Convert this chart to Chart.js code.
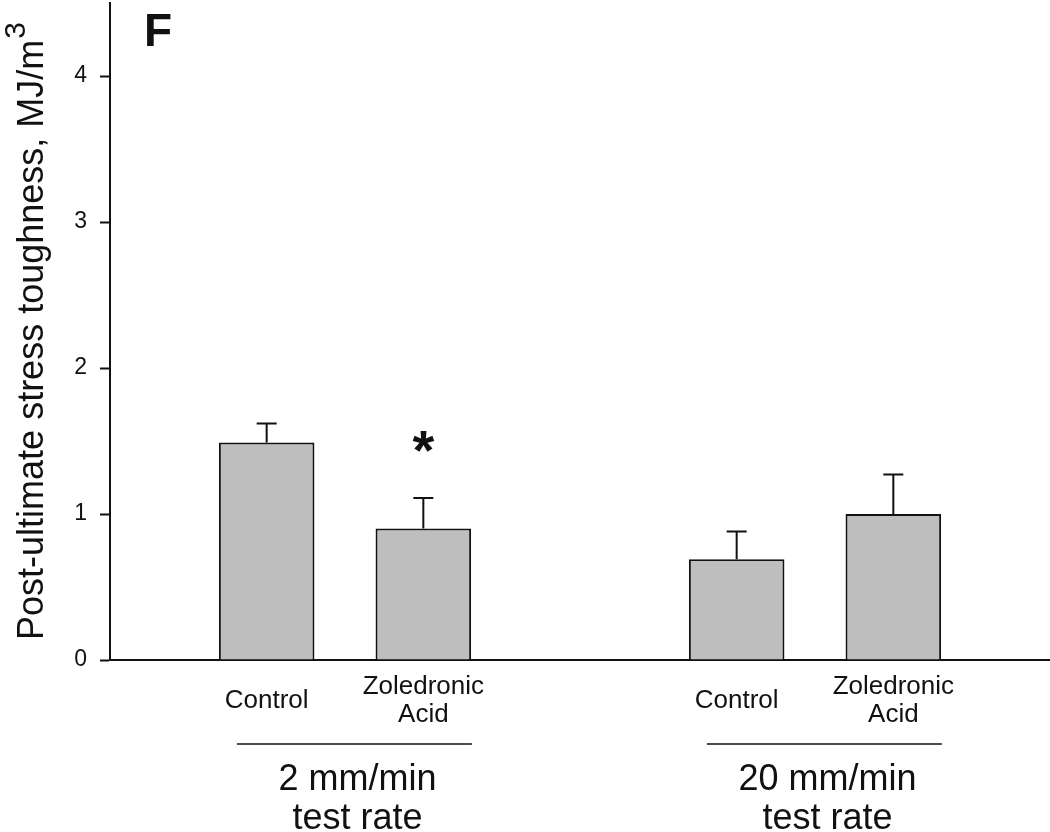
<!DOCTYPE html>
<html>
<head>
<meta charset="utf-8">
<script src="https://cdn.jsdelivr.net/npm/chart.js@4/dist/chart.umd.min.js"></script>
<style>
  body { margin: 0; background: #fff; }
  canvas { display: block; }
</style>
</head>
<body>
<canvas id="chart" width="1050" height="832"></canvas>
<script>
// categories (empty slots keep the gap between the two test rates)
const labels = ["", "Control", ["Zoledronic", "Acid"], "", "Control", ["Zoledronic", "Acid"], ""];
const toughness = [null, 1.49, 0.90, null, 0.69, 1.00, null];
const sem = [null, 0.13, 0.21, null, 0.19, 0.27, null];
const marks = ["", "", "*", "", "", "", ""];
const groupNames = [["2 mm/min", "test rate"], ["20 mm/min", "test rate"]];
const groupSlots = [[1, 2], [4, 5]];
const yTicks = [0, 1, 2, 3, 4];

const FONT = "'Liberation Sans', Arial, sans-serif";
const INK = "#111";

const extras = {
  id: "extras",
  afterDatasetsDraw(chart) {
    const ctx = chart.ctx;
    const x = chart.scales.x, y = chart.scales.y;
    const meta = chart.getDatasetMeta(0);
    ctx.save();
    ctx.strokeStyle = INK;
    ctx.fillStyle = INK;
    ctx.lineWidth = 2;
    // error bars (upper only) and significance marks
    meta.data.forEach((bar, i) => {
      if (toughness[i] == null) return;
      const top = y.getPixelForValue(toughness[i] + sem[i]);
      ctx.beginPath();
      ctx.moveTo(bar.x, bar.y);
      ctx.lineTo(bar.x, top);
      ctx.moveTo(bar.x - 10, top);
      ctx.lineTo(bar.x + 10, top);
      ctx.stroke();
      if (marks[i]) {
        ctx.font = "bold 56px " + FONT;
        const m = ctx.measureText(marks[i]);
        const mid = top - 56;
        ctx.textAlign = "center";
        ctx.textBaseline = "alphabetic";
        ctx.fillText(marks[i], bar.x, mid + (m.actualBoundingBoxAscent - m.actualBoundingBoxDescent) / 2);
      }
    });
    ctx.restore();
  },
  afterDraw(chart) {
    const ctx = chart.ctx;
    const x = chart.scales.x;
    const area = chart.chartArea;
    const w = x.getPixelForValue(1) - x.getPixelForValue(0);
    ctx.save();
    ctx.fillStyle = INK;
    ctx.strokeStyle = INK;

    // group brackets and labels
    groupSlots.forEach((s, g) => {
      const a = x.getPixelForValue(s[0]), b = x.getPixelForValue(s[1]);
      const ly = area.bottom + 84;
      ctx.lineWidth = 1.5;
      ctx.beginPath();
      ctx.moveTo(a - 0.19 * w, ly);
      ctx.lineTo(b + 0.31 * w, ly);
      ctx.stroke();
      ctx.font = "36px " + FONT;
      ctx.textAlign = "center";
      ctx.textBaseline = "alphabetic";
      const cx = (a + b) / 2 + 0.08 * w;
      ctx.fillText(groupNames[g][0], cx, area.bottom + 130);
      ctx.fillText(groupNames[g][1], cx, area.bottom + 169);
    });

    // panel letter
    ctx.font = "bold 46px " + FONT;
    ctx.textAlign = "left";
    ctx.fillText("F", 144, 46);

    // y title with superscript
    const main = "Post-ultimate stress toughness, MJ/m";
    ctx.font = "36px " + FONT;
    const wMain = ctx.measureText(main).width;
    ctx.font = "30px " + FONT;
    const wSup = ctx.measureText("3").width;
    const start = (area.top + area.bottom) / 2 + (wMain + wSup) / 2;
    ctx.translate(43, start);
    ctx.rotate(-Math.PI / 2);
    ctx.font = "36px " + FONT;
    ctx.fillText(main, 0, 0);
    ctx.font = "30px " + FONT;
    ctx.fillText("3", wMain + 1, -18);
    ctx.restore();
  }
};

new Chart(document.getElementById("chart"), {
  type: "bar",
  data: {
    labels: labels,
    datasets: [{
      data: toughness,
      backgroundColor: "#bebebe",
      borderColor: INK,
      borderWidth: 2,
      barPercentage: 0.61,
      categoryPercentage: 1
    }]
  },
  options: {
    responsive: false,
    animation: false,
    layout: { padding: { top: 3, right: 0, left: 0, bottom: 0 } },
    plugins: { legend: { display: false }, tooltip: { enabled: false } },
    scales: {
      x: {
        offset: false,
        grid: { display: false, drawTicks: false },
        border: { display: true, color: INK, width: 2 },
        ticks: {
          autoSkip: false,
          maxRotation: 0,
          crossAlign: "center",
          padding: 27,
          color: INK,
          font: { family: FONT, size: 26, lineHeight: 1.08 }
        },
        afterFit: s => { s.height = 172; s.paddingLeft = 0; s.paddingRight = 0; }
      },
      y: {
        min: 0,
        max: 4.5,
        grid: { drawOnChartArea: false, drawTicks: true, tickLength: 10, tickColor: INK, tickWidth: 2 },
        border: { display: true, color: INK, width: 2 },
        afterBuildTicks: s => { s.ticks = yTicks.map(v => ({ value: v })); },
        ticks: {
          padding: 13,
          color: INK,
          font: { family: FONT, size: 23 }
        },
        afterFit: s => { s.width = 110; s.paddingTop = 0; s.paddingBottom = 0; }
      }
    }
  },
  plugins: [extras]
});
</script>
</body>
</html>
